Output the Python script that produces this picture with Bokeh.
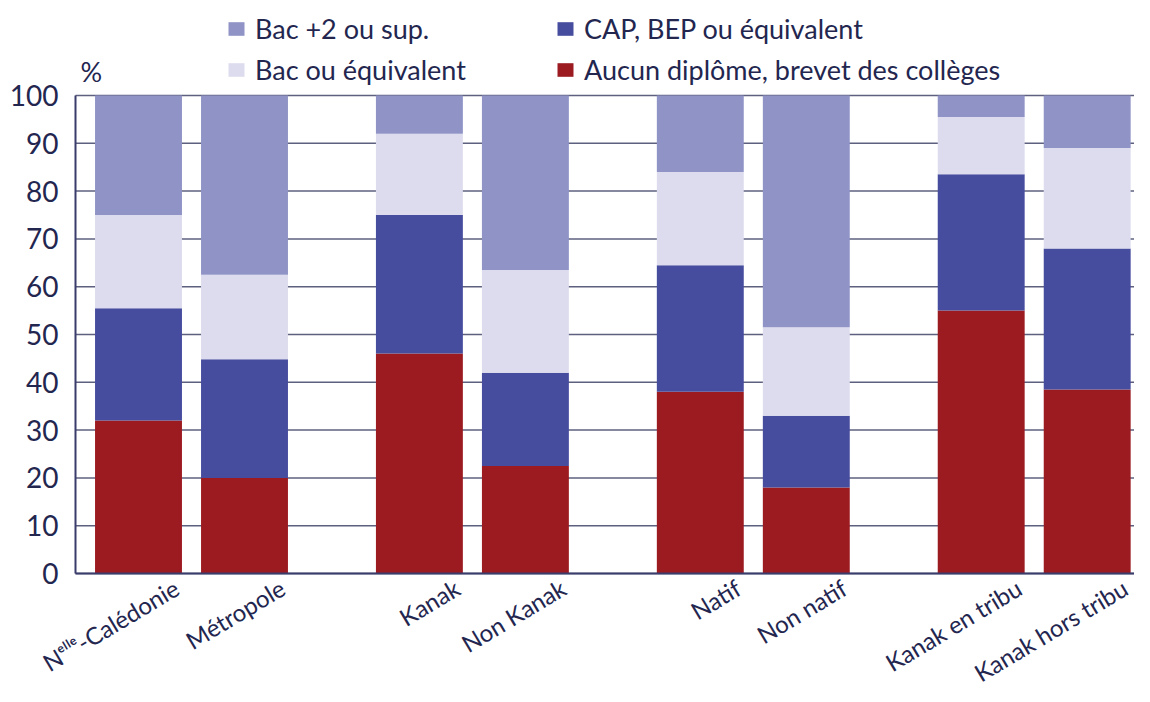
from bokeh.plotting import figure
from bokeh.models import ColumnDataSource, Legend, LegendItem, Label, Range1d
from bokeh.core.properties import value
from bokeh.embed import file_html
from bokeh.resources import INLINE

categories = ["Nᵉˡˡᵉ-Calédonie", "Métropole", "Kanak", "Non Kanak",
              "Natif", "Non natif", "Kanak en tribu", "Kanak hors tribu"]
groups = [0, 0, 1, 1, 2, 2, 3, 3]
aucun = [32, 20, 46, 22.5, 38, 18, 55, 38.5]
cap = [23.5, 24.8, 29, 19.5, 26.5, 15, 28.5, 29.5]
bac = [19.5, 17.7, 17, 21.5, 19.5, 18.5, 12, 21]
bac2 = [25, 37.5, 8, 36.5, 16, 48.5, 4.5, 11]
series_keys = ["aucun", "cap", "bac", "bac2"]
series_names = ["Aucun diplôme, brevet des collèges", "CAP, BEP ou équivalent",
                "Bac ou équivalent", "Bac +2 ou sup."]
colors = ["#9c1b21", "#464c9e", "#dcdcee", "#8f93c6"]
yticks = list(range(0, 101, 10))

FONT = "Lato"
TXT = "#23264f"
AXIS_COLOR = "#3a3d6c"
GRID_COLOR = "#5e607f"
GAP = 0.65

# layout (pixels)
W, H = 1134, 686
PXU_X, PXU_Y = 106, 4.78
FIRST_BAR_PX = 138
AXIS_PX = 75
BASE_PX = 573

xpos = [i + GAP * g for i, g in enumerate(groups)]
source = ColumnDataSource(dict(x=xpos, aucun=aucun, cap=cap, bac=bac, bac2=bac2))

x_start = -FIRST_BAR_PX / PXU_X
x_end = x_start + W / PXU_X
y_top = BASE_PX / PXU_Y
y_bot = -(H - BASE_PX) / PXU_Y
AXIS_X = x_start + AXIS_PX / PXU_X

p = figure(width=W, height=H,
           x_range=Range1d(x_start, x_end), y_range=Range1d(y_bot, y_top),
           output_backend="svg", toolbar_location=None,
           min_border_left=0, min_border_top=0, min_border_right=0, min_border_bottom=0)
p.outline_line_color = None
p.background_fill_color = "white"
p.xaxis.visible = False
p.yaxis.visible = False
p.grid.visible = False

# gridlines (behind bars)
p.segment(x0=[AXIS_X] * len(yticks), x1=[x_end] * len(yticks), y0=yticks, y1=yticks,
          line_color=GRID_COLOR, line_width=1.5)

rs = p.vbar_stack(series_keys, x="x", width=0.82, source=source, color=colors, line_color=None)

# axis lines
p.segment(x0=[AXIS_X], x1=[x_end], y0=[yticks[0]], y1=[yticks[0]],
          line_color=AXIS_COLOR, line_width=2)
p.segment(x0=[AXIS_X], x1=[AXIS_X], y0=[yticks[0]], y1=[yticks[-1]],
          line_color=AXIS_COLOR, line_width=2)

# y tick labels
p.text(x=[AXIS_X] * len(yticks), y=yticks, text=[str(t) for t in yticks],
       x_offset=-17, text_align="right", text_baseline="middle",
       text_font=value(FONT), text_font_size="28px", text_color=TXT)

# x category labels (rotated)
p.text(x=xpos, y=[0] * len(xpos), text=categories, angle=0.54,
       text_align="right", text_baseline="middle", x_offset=38, y_offset=12,
       text_font=value(FONT), text_font_size="24px", text_color=TXT)

def mk_legend(items, loc):
    return Legend(items=items, location=loc, orientation="vertical",
                  background_fill_alpha=0, border_line_alpha=0, padding=0, margin=0,
                  spacing=8, glyph_width=20, glyph_height=17, label_standoff=9,
                  label_text_font=FONT, label_text_font_size="27px",
                  label_text_color=TXT, label_height=30)

leg1 = mk_legend([LegendItem(label=series_names[3], renderers=[rs[3]]),
                  LegendItem(label=series_names[2], renderers=[rs[2]])], (226, 600))
leg2 = mk_legend([LegendItem(label=series_names[1], renderers=[rs[1]]),
                  LegendItem(label=series_names[0], renderers=[rs[0]])], (555, 600))
p.add_layout(leg1)
p.add_layout(leg2)

p.add_layout(Label(x=AXIS_X, y=yticks[-1], x_offset=5, y_offset=8, text="%",
                   text_font=FONT, text_font_size="27px", text_color=TXT,
                   text_baseline="bottom"))

open("out.html", "w").write(file_html(p, INLINE))
